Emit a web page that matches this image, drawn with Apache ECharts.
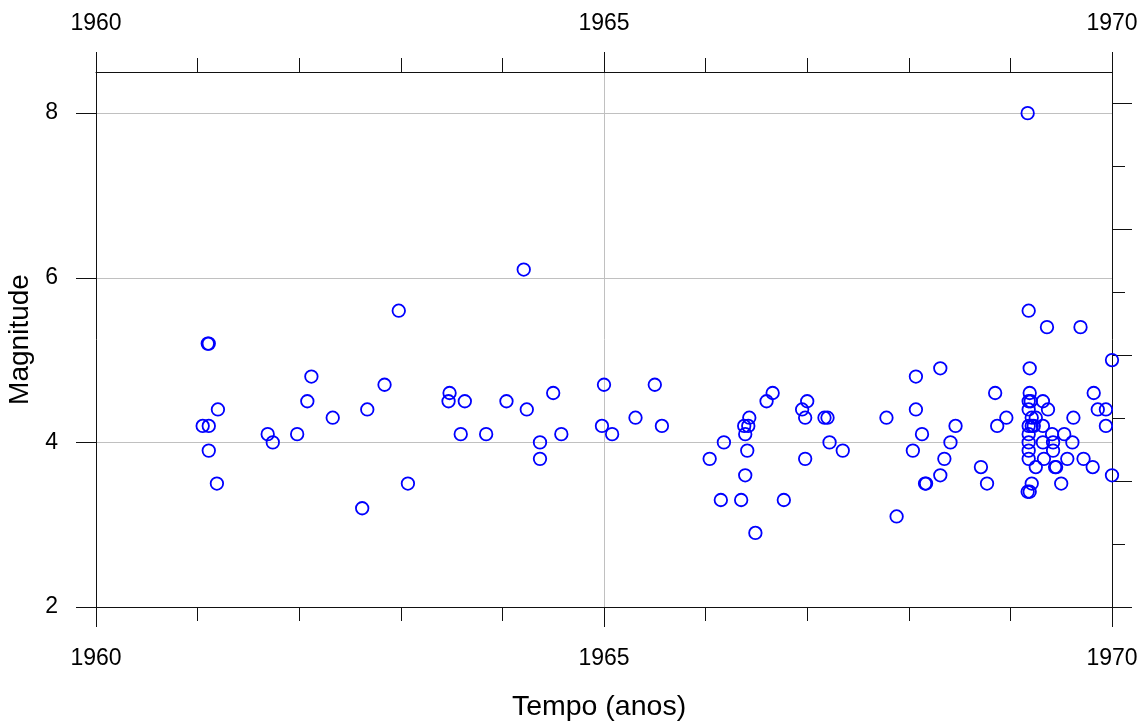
<!DOCTYPE html>
<html>
<head>
<meta charset="utf-8">
<script src="https://cdn.jsdelivr.net/npm/echarts@6/dist/echarts.min.js"></script>
<style>
html,body{margin:0;padding:0;background:#fff;}
#chart{width:1145px;height:722px;}
</style>
</head>
<body>
<div id="chart"></div>
<script>
const years = [
 1961.05,1961.11,1961.10,1961.11,1961.11,1961.20,1961.19,
 1961.69,1961.74,1961.98,1962.08,1962.12,1962.33,1962.62,1962.67,1962.84,1962.98,1963.07,
 1963.47,1963.48,1963.59,1963.63,1963.84,1964.04,1964.21,1964.24,1964.37,1964.37,1964.50,1964.58,
 1964.98,1965.00,1965.08,1965.31,1965.50,1965.57,
 1966.04,1966.15,1966.18,1966.35,1966.38,1966.42,1966.39,1966.41,1966.39,1966.43,1966.49,1966.60,1966.66,1966.77,
 1966.95,1966.98,1966.98,1967.00,1967.17,1967.20,1967.22,1967.35,1967.78,1967.88,
 1968.04,1968.07,1968.07,1968.13,1968.16,1968.17,1968.31,1968.31,1968.35,1968.41,1968.46,
 1968.71,1968.77,1968.85,1968.87,1968.96,
 1969.17,1969.18,1969.19,1969.19,1969.18,1969.20,1969.18,1969.21,1969.25,1969.18,1969.21,1969.23,
 1969.18,1969.18,1969.18,1969.18,1969.21,1969.17,1969.19,1969.25,
 1969.32,1969.32,1969.32,1969.33,1969.36,1969.37,1969.41,1969.42,1969.42,1969.44,1969.45,
 1969.50,1969.53,1969.56,1969.61,1969.62,1969.69,1969.72,1969.81,1969.82,1969.86,1969.94,1969.94,
 1970.00,1970.00
];
const magnitudes = [
 4.2,4.2,5.2,5.2,3.9,4.4,3.5,
 4.1,4.0,4.1,4.5,4.8,4.3,3.2,4.4,4.7,5.6,3.5,
 4.5,4.6,4.1,4.5,4.1,4.5,6.1,4.4,4.0,3.8,4.6,4.1,
 4.2,4.7,4.1,4.3,4.7,4.2,
 3.8,3.3,4.0,3.3,4.2,4.2,4.1,3.9,3.6,4.3,2.9,4.5,4.6,3.3,
 4.4,4.3,3.8,4.5,4.3,4.3,4.0,3.9,4.3,3.1,
 3.9,4.8,4.4,4.1,3.5,3.5,4.9,3.6,3.8,4.0,4.2,
 3.7,3.5,4.6,4.2,4.3,
 8.0,5.6,4.9,4.6,4.5,4.5,4.4,4.3,4.3,4.2,4.2,4.2,
 4.1,4.0,3.9,3.8,3.5,3.4,3.4,3.7,
 4.5,4.2,4.0,3.8,5.4,4.4,4.1,4.0,3.9,3.7,3.7,
 3.5,4.1,3.8,4.0,4.3,5.4,3.8,3.7,4.6,4.4,4.4,4.2,
 5.0,3.6
];
const xTickLabels = [1960, 1965, 1970];
const yTickValues = [2, 4, 6, 8];
const rightMajor = [0, 2, 4, 6, 8];
const rightMinor = [1, 3, 5, 7];

const FONT = 'Liberation Sans, Arial, sans-serif';
const AX = '#111';
const data = years.map((y, i) => [y, magnitudes[i]]);

const chart = echarts.init(document.getElementById('chart'), null, {renderer: 'canvas'});
const xBase = (pos) => ({
  type: 'value', position: pos, min: 1960, max: 1970, interval: 5,
  axisLine: {show: true, onZero: false, lineStyle: {color: AX, width: 1}},
  axisTick: {show: true, inside: false, length: 20, lineStyle: {color: AX}},
  minorTick: {show: true, splitNumber: 5, length: 14, lineStyle: {color: AX}},
  axisLabel: {fontSize: 23, color: '#000', fontFamily: FONT, margin: pos === 'top' ? 37 : 40,
    formatter: v => xTickLabels.includes(v) ? String(v) : ''},
});
const option = {
  animation: false,
  grid: {left: 96, right: 33, top: 72, bottom: 115, containLabel: false, outerBoundsMode: 'none'},
  xAxis: [
    Object.assign(xBase('bottom'), {
      splitLine: {show: true, lineStyle: {color: '#c0c0c0', width: 1}},
      name: 'Tempo (anos)', nameLocation: 'middle', nameGap: 86,
      nameTextStyle: {fontSize: 28.5, color: '#000', fontFamily: FONT, padding: [0, 10, 0, 0]}
    }),
    Object.assign(xBase('top'), {splitLine: {show: false}})
  ],
  yAxis: [
    {
      type: 'value', position: 'left', min: 2, max: 8.5, interval: 2,
      axisLine: {show: true, onZero: false, lineStyle: {color: AX}},
      axisTick: {show: true, length: 20, customValues: yTickValues, lineStyle: {color: AX}},
      axisLabel: {fontSize: 23, color: '#000', fontFamily: FONT, margin: 38, customValues: yTickValues},
      splitLine: {show: true, lineStyle: {color: '#c0c0c0', width: 1}},
      name: 'Magnitude', nameLocation: 'middle', nameGap: 54, nameRotate: 90,
      nameTextStyle: {fontSize: 28, color: '#000', fontFamily: FONT}
    },
    {
      type: 'value', position: 'right', min: 0, max: 535 / 63, interval: 1,
      axisLine: {show: true, onZero: false, lineStyle: {color: AX}},
      axisTick: {show: true, length: 20, customValues: rightMajor, lineStyle: {color: AX}},
      axisLabel: {show: false},
      splitLine: {show: false}
    },
    {
      type: 'value', position: 'right', min: 0, max: 535 / 63, interval: 1,
      axisLine: {show: false},
      axisTick: {show: true, length: 13, customValues: rightMinor, lineStyle: {color: AX}},
      axisLabel: {show: false},
      splitLine: {show: false}
    }
  ],
  series: [{
    type: 'scatter', xAxisIndex: 0, yAxisIndex: 0, data: data,
    symbol: 'circle', symbolSize: 12.5, clip: false,
    itemStyle: {color: 'rgba(0,0,0,0)', borderColor: '#0000ff', borderWidth: 1.8, opacity: 1},
    emphasis: {disabled: true}
  }]
};
chart.setOption(option);
</script>
</body>
</html>
